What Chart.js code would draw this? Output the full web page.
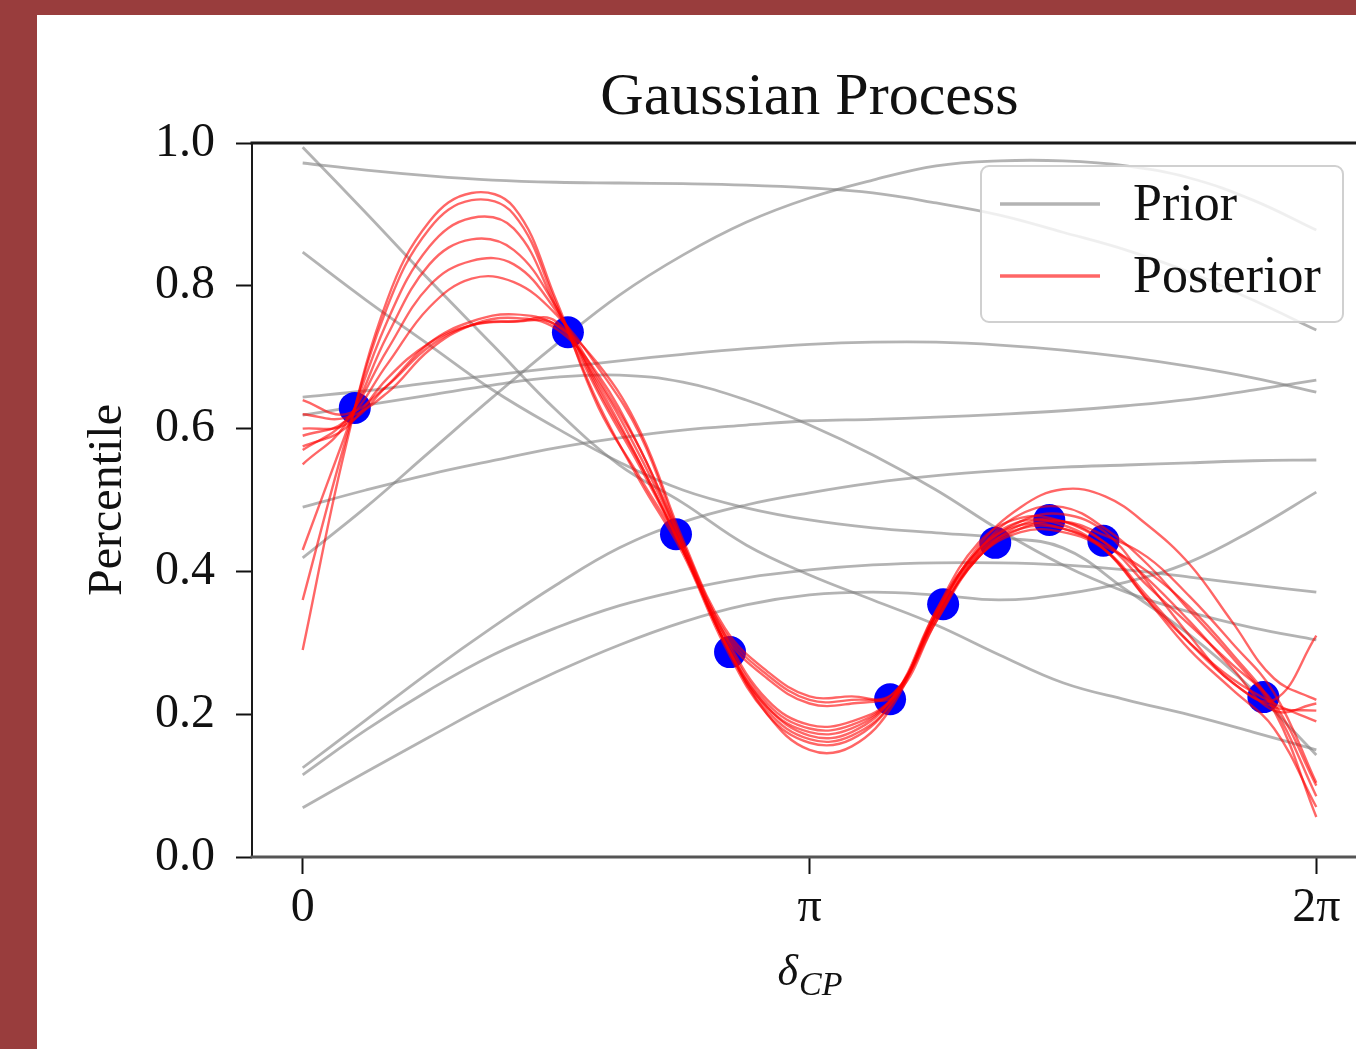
<!DOCTYPE html>
<html>
<head>
<meta charset="utf-8">
<title>Gaussian Process</title>
<script src="https://cdn.jsdelivr.net/npm/chart.js@4.4.1/dist/chart.umd.min.js"></script>
<style>
    html, body { margin: 0; padding: 0; overflow: hidden; background: #993d3d; }
    #frame { position: absolute; left: 37px; top: 15px; width: 1400px; height: 1034px; background: #fff; }
    canvas { display: block; }
</style>
</head>
<body>
<div id="frame"><canvas id="gpChart" width="1400" height="1034"></canvas></div>
<script>
// ============================================
// DATA
// ============================================

// x axis: delta_CP in radians
const X_TICKS = [0, Math.PI, 2 * Math.PI];
const X_TICK_LABELS = ['0', 'π', '2π'];
const Y_TICK_STEP = 0.2;

// prior samples are read at steps of pi/8
const PRIOR_X = [0, 0.3927, 0.7854, 1.1781, 1.5708, 1.9635, 2.3562, 2.7489, 3.1416,
                 3.5343, 3.9270, 4.3197, 4.7124, 5.1051, 5.4978, 5.8905, 6.2832];

const prior01 = [0.994, 0.902, 0.808, 0.717, 0.626, 0.549, 0.496, 0.437, 0.395, 0.360, 0.325, 0.283, 0.244, 0.220, 0.199, 0.175, 0.150];
const prior02 = [0.972, 0.962, 0.954, 0.948, 0.945, 0.944, 0.943, 0.941, 0.937, 0.930, 0.916, 0.899, 0.875, 0.850, 0.819, 0.780, 0.738];
const prior03 = [0.847, 0.780, 0.717, 0.654, 0.601, 0.553, 0.514, 0.489, 0.472, 0.461, 0.454, 0.447, 0.433, 0.374, 0.311, 0.234, 0.143];
const prior04 = [0.644, 0.653, 0.664, 0.675, 0.685, 0.695, 0.704, 0.712, 0.718, 0.721, 0.721, 0.717, 0.710, 0.700, 0.687, 0.671, 0.651];
const prior05 = [0.619, 0.633, 0.647, 0.661, 0.672, 0.675, 0.665, 0.640, 0.605, 0.563, 0.514, 0.458, 0.409, 0.371, 0.343, 0.321, 0.304];
const prior06 = [0.490, 0.514, 0.536, 0.555, 0.573, 0.587, 0.598, 0.605, 0.611, 0.613, 0.616, 0.620, 0.625, 0.632, 0.641, 0.654, 0.668];
const prior07 = [0.419, 0.490, 0.567, 0.644, 0.718, 0.787, 0.843, 0.889, 0.923, 0.948, 0.968, 0.975, 0.975, 0.968, 0.951, 0.920, 0.878];
const prior08 = [0.125, 0.192, 0.259, 0.322, 0.381, 0.433, 0.469, 0.493, 0.510, 0.524, 0.534, 0.541, 0.546, 0.549, 0.552, 0.555, 0.556];
const prior09 = [0.115, 0.178, 0.234, 0.283, 0.321, 0.352, 0.374, 0.391, 0.402, 0.409, 0.412, 0.412, 0.409, 0.402, 0.392, 0.381, 0.371];
const prior10 = [0.069, 0.119, 0.168, 0.216, 0.259, 0.297, 0.329, 0.353, 0.367, 0.371, 0.367, 0.360, 0.368, 0.385, 0.413, 0.458, 0.511];

// posterior samples are read at steps of pi/12
const POST_X = [0, 0.2618, 0.5236, 0.7854, 1.0472, 1.3090, 1.5708, 1.8326, 2.0944, 2.3562,
                2.6180, 2.8798, 3.1416, 3.4034, 3.6652, 3.9270, 4.1888, 4.4506, 4.7124,
                4.9742, 5.2360, 5.4978, 5.7596, 6.0214, 6.2832];

const post01 = [0.29, 0.57, 0.78, 0.89, 0.93, 0.91, 0.78, 0.63, 0.53, 0.43, 0.30, 0.21, 0.175, 0.18, 0.225, 0.335, 0.42, 0.465, 0.47, 0.44, 0.38, 0.325, 0.27, 0.215, 0.10];
const post02 = [0.36, 0.58, 0.77, 0.88, 0.92, 0.90, 0.775, 0.635, 0.525, 0.425, 0.295, 0.20, 0.16, 0.165, 0.22, 0.34, 0.43, 0.48, 0.49, 0.46, 0.41, 0.345, 0.28, 0.205, 0.056];
const post03 = [0.43, 0.59, 0.75, 0.855, 0.895, 0.88, 0.77, 0.65, 0.545, 0.43, 0.30, 0.21, 0.17, 0.175, 0.225, 0.345, 0.43, 0.47, 0.465, 0.43, 0.36, 0.30, 0.25, 0.215, 0.19];
const post04 = [0.55, 0.605, 0.73, 0.83, 0.865, 0.85, 0.77, 0.655, 0.55, 0.43, 0.305, 0.215, 0.18, 0.185, 0.225, 0.34, 0.425, 0.46, 0.46, 0.435, 0.40, 0.35, 0.285, 0.21, 0.085];
const post05 = [0.57, 0.61, 0.71, 0.80, 0.835, 0.83, 0.765, 0.67, 0.57, 0.435, 0.31, 0.25, 0.215, 0.215, 0.23, 0.335, 0.42, 0.455, 0.455, 0.43, 0.365, 0.30, 0.245, 0.21, 0.205];
const post06 = [0.59, 0.61, 0.69, 0.77, 0.81, 0.805, 0.76, 0.685, 0.59, 0.44, 0.315, 0.255, 0.22, 0.22, 0.23, 0.33, 0.42, 0.46, 0.47, 0.45, 0.42, 0.365, 0.30, 0.23, 0.104];
const post07 = [0.60, 0.605, 0.66, 0.72, 0.75, 0.76, 0.745, 0.69, 0.595, 0.445, 0.32, 0.26, 0.225, 0.225, 0.225, 0.33, 0.425, 0.47, 0.48, 0.455, 0.385, 0.31, 0.245, 0.22, 0.31];
const post08 = [0.62, 0.615, 0.65, 0.71, 0.745, 0.755, 0.74, 0.675, 0.57, 0.44, 0.31, 0.22, 0.185, 0.19, 0.225, 0.34, 0.435, 0.49, 0.515, 0.505, 0.465, 0.41, 0.33, 0.25, 0.22];
const post09 = [0.64, 0.62, 0.66, 0.715, 0.745, 0.75, 0.745, 0.665, 0.56, 0.435, 0.30, 0.205, 0.165, 0.17, 0.22, 0.345, 0.44, 0.475, 0.47, 0.44, 0.39, 0.33, 0.265, 0.205, 0.215];
const post10 = [0.575, 0.60, 0.67, 0.72, 0.745, 0.75, 0.75, 0.66, 0.55, 0.43, 0.30, 0.20, 0.15, 0.155, 0.215, 0.34, 0.43, 0.465, 0.46, 0.43, 0.36, 0.29, 0.235, 0.18, 0.07];

// observed points
const OBS_X = [0.323, 1.644, 2.314, 2.649, 3.641, 3.970, 4.293, 4.628, 4.963, 5.955];
const OBS_Y = [0.629, 0.735, 0.452, 0.287, 0.221, 0.354, 0.440, 0.472, 0.443, 0.224];

const PRIOR_SERIES = [prior01, prior02, prior03, prior04, prior05, prior06, prior07, prior08, prior09, prior10];
const POST_SERIES = [post01, post02, post03, post04, post05, post06, post07, post08, post09, post10];

// ============================================
// STYLE
// ============================================
const PRIOR_COLOR = 'rgba(128,128,128,0.6)';
const POST_COLOR = 'rgba(255,0,0,0.6)';
const OBS_COLOR = '#0000ff';
const SERIF = '"Liberation Serif", "DejaVu Serif", serif';

function toPoints(xs, ys) {
    return ys.map((y, i) => ({ x: xs[i], y: y }));
}

// title, axis titles, spines and the boxed legend
const gpDecor = {
    id: 'gpDecor',
    afterDraw(chart) {
        const ctx = chart.ctx;
        const a = chart.chartArea;
        const cx = (a.left + a.right) / 2;
        ctx.save();

        // spines
        ctx.lineCap = 'square';
        ctx.strokeStyle = '#1a1a1a';
        ctx.lineWidth = 2;
        ctx.beginPath(); ctx.moveTo(a.left, a.top); ctx.lineTo(a.left, a.bottom); ctx.stroke();
        ctx.lineWidth = 3;
        ctx.beginPath(); ctx.moveTo(a.left, a.top); ctx.lineTo(a.right, a.top); ctx.stroke();
        ctx.strokeStyle = '#555';
        ctx.beginPath(); ctx.moveTo(a.left, a.bottom); ctx.lineTo(a.right, a.bottom); ctx.stroke();

        // title
        ctx.fillStyle = '#111';
        ctx.textAlign = 'center';
        ctx.textBaseline = 'alphabetic';
        ctx.font = '60px ' + SERIF;
        ctx.fillText('Gaussian Process', cx, 99);

        // y axis title
        ctx.save();
        ctx.translate(71, (a.top + a.bottom) / 2);
        ctx.rotate(-Math.PI / 2);
        ctx.textBaseline = 'middle';
        ctx.font = '48px ' + SERIF;
        ctx.fillText('Percentile', 0, 0);
        ctx.restore();

        // x axis title: delta with subscript CP
        ctx.textAlign = 'left';
        ctx.font = 'italic 44px ' + SERIF;
        const dW = ctx.measureText('δ').width;
        ctx.font = 'italic 34px ' + SERIF;
        const sW = ctx.measureText('CP').width;
        const x0 = cx - (dW + sW) / 2;
        ctx.font = 'italic 44px ' + SERIF;
        ctx.fillText('δ', x0, 970);
        ctx.font = 'italic 34px ' + SERIF;
        ctx.fillText('CP', x0 + dW + 1, 980);

        // legend box
        const bx = 944, by = 151, bw = 362, bh = 156;
        ctx.beginPath();
        ctx.roundRect(bx, by, bw, bh, 8);
        ctx.fillStyle = 'rgba(255,255,255,0.8)';
        ctx.fill();
        ctx.strokeStyle = '#d0d0d0';
        ctx.lineWidth = 2;
        ctx.stroke();

        const rows = [['Prior', PRIOR_COLOR, 189], ['Posterior', POST_COLOR, 261]];
        rows.forEach(([label, color, y]) => {
            ctx.strokeStyle = color;
            ctx.lineWidth = 3.5;
            ctx.lineCap = 'butt';
            ctx.beginPath(); ctx.moveTo(963, y); ctx.lineTo(1063, y); ctx.stroke();
            ctx.fillStyle = '#111';
            ctx.textBaseline = 'middle';
            ctx.font = '52px ' + SERIF;
            ctx.fillText(label, 1096, y + 2);
        });

        ctx.restore();
    }
};

const datasets = [];
POST_SERIES.forEach((s, i) => {
    datasets.push({
        label: 'Posterior ' + (i + 1),
        data: toPoints(POST_X, s),
        borderColor: POST_COLOR,
        borderWidth: 2.4,
        pointRadius: 0,
        tension: 0.4,
        fill: false,
        order: 0
    });
});
datasets.push({
    label: 'Observed',
    data: toPoints(OBS_X, OBS_Y),
    showLine: false,
    pointRadius: 16,
    pointHoverRadius: 16,
    pointBackgroundColor: OBS_COLOR,
    pointBorderWidth: 0,
    borderColor: OBS_COLOR,
    order: 1
});
PRIOR_SERIES.forEach((s, i) => {
    datasets.push({
        label: 'Prior ' + (i + 1),
        data: toPoints(PRIOR_X, s),
        borderColor: PRIOR_COLOR,
        borderWidth: 2.8,
        pointRadius: 0,
        tension: 0.4,
        fill: false,
        order: 2
    });
});

document.addEventListener('DOMContentLoaded', function() {
    const ctx = document.getElementById('gpChart').getContext('2d');
    window.gpChart = new Chart(ctx, {
        type: 'line',
        data: { datasets: datasets },
        plugins: [gpDecor],
        options: {
            responsive: false,
            animation: false,
            events: [],
            layout: { padding: { left: 0, top: 128, right: 70, bottom: 0 } },
            plugins: {
                legend: { display: false },
                tooltip: { enabled: false },
                title: { display: false }
            },
            scales: {
                x: {
                    type: 'linear',
                    min: -0.1 * Math.PI,
                    max: 2.1 * Math.PI,
                    afterBuildTicks: axis => { axis.ticks = X_TICKS.map(v => ({ value: v })); },
                    afterFit: axis => { axis.height = 192; },
                    ticks: {
                        autoSkip: false,
                        maxRotation: 0,
                        padding: 6,
                        color: '#111',
                        font: { family: SERIF, size: 48 },
                        callback: (v, i) => X_TICK_LABELS[i]
                    },
                    grid: { drawOnChartArea: false, drawTicks: true, tickLength: 17, tickWidth: 2, tickColor: '#111' },
                    border: { display: false }
                },
                y: {
                    min: 0,
                    max: 1,
                    afterFit: axis => { axis.width = 215; },
                    ticks: {
                        stepSize: Y_TICK_STEP,
                        padding: 21,
                        color: '#111',
                        font: { family: SERIF, size: 48 },
                        callback: v => v.toFixed(1)
                    },
                    grid: { drawOnChartArea: false, drawTicks: true, tickLength: 16, tickWidth: 2, tickColor: '#111' },
                    border: { display: false }
                }
            }
        }
    });
});
</script>
</body>
</html>
